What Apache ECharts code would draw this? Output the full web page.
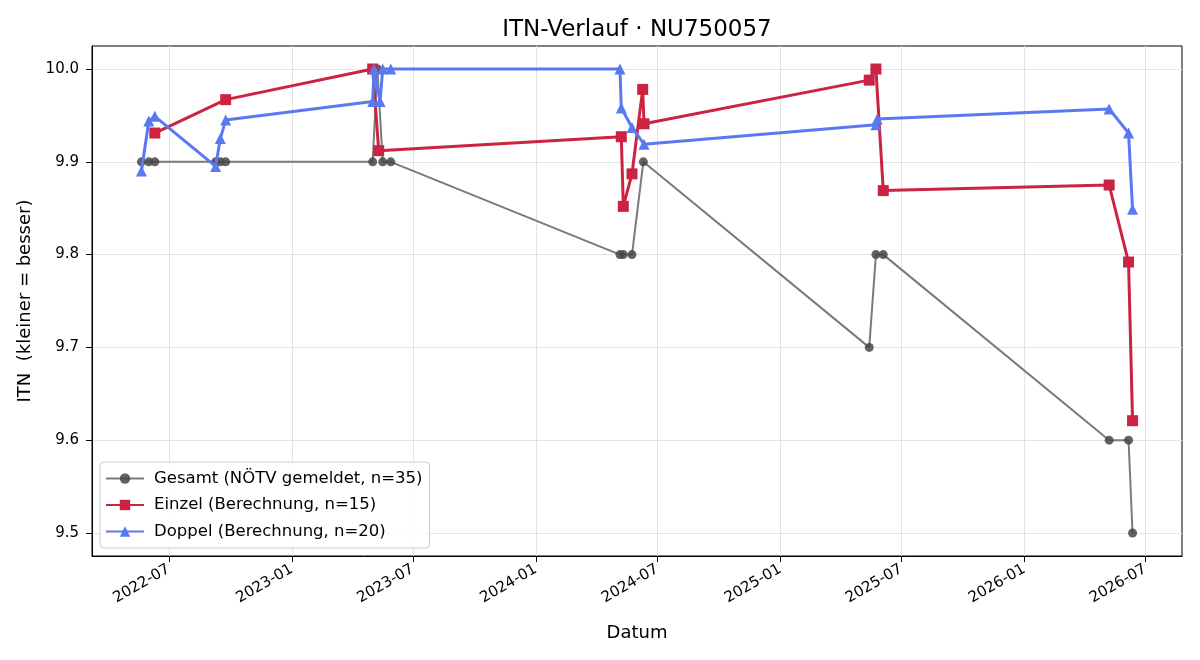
<!DOCTYPE html>
<html>
<head>
<meta charset="utf-8">
<script src="https://cdn.jsdelivr.net/npm/echarts@6/dist/echarts.min.js"></script>
<style>html,body{margin:0;padding:0;background:#fff}#c{width:1200px;height:660px}</style>
</head>
<body>
<div id="c"></div>
<script>
// ---- data ----
const gesamtDates = ['2022-05-21','2022-06-01','2022-06-10','2022-09-09','2022-09-16','2022-09-24','2023-05-02','2023-05-09','2023-05-17','2023-05-29','2024-05-06','2024-05-11','2024-05-24','2024-06-10','2025-05-14','2025-05-24','2025-06-04','2026-05-08','2026-06-06','2026-06-12'];
const gesamtValues = [9.9,9.9,9.9,9.9,9.9,9.9,9.9,10.0,9.9,9.9,9.8,9.8,9.8,9.9,9.7,9.8,9.8,9.6,9.6,9.5];

const einzelDates = ['2022-06-10','2022-09-24','2023-05-02','2023-05-11','2024-05-08','2024-05-11','2024-05-24','2024-06-09','2024-06-11','2025-05-14','2025-05-24','2025-06-04','2026-05-08','2026-06-06','2026-06-12'];
const einzelValues = [9.931,9.967,10.0,9.912,9.927,9.852,9.887,9.978,9.941,9.988,10.0,9.869,9.875,9.792,9.621];

const doppelDates = ['2022-05-21','2022-06-01','2022-06-10','2022-09-09','2022-09-16','2022-09-24','2023-05-02','2023-05-04','2023-05-13','2023-05-17','2023-05-29','2024-05-06','2024-05-08','2024-05-24','2024-06-11','2025-05-24','2025-05-26','2026-05-08','2026-06-06','2026-06-12'];
const doppelValues = [9.89,9.944,9.949,9.895,9.925,9.945,9.965,10.0,9.965,10.0,10.0,10.0,9.958,9.937,9.919,9.94,9.946,9.957,9.931,9.849];

const xTickLabels = ['2022-07-01','2023-01-01','2023-07-01','2024-01-01','2024-07-01','2025-01-01','2025-07-01','2026-01-01','2026-07-01'];
const yTickValues = [9.5,9.6,9.7,9.8,9.9,10.0];

const xMinDate = '2022-03-08';
const xMaxDate = '2026-08-25';

// ---- helpers ----
function toTs(s){const p=s.split('-').map(Number);return Date.UTC(p[0],p[1]-1,p[2]);}
function pairs(d,v){return d.map((x,i)=>[toTs(x),v[i]]);}
const xTicks = xTickLabels.map(toTs);

const FONT = 'DejaVu Sans';
const chart = echarts.init(document.getElementById('c'), null, {renderer:'canvas'});
chart.setOption({
  animation:false,
  backgroundColor:'#fff',
  textStyle:{fontFamily:FONT},
  title:{text:'ITN-Verlauf · NU750057',left:632,textAlign:'center',top:14,textStyle:{fontFamily:FONT,fontSize:23,fontWeight:'normal',color:'#000'}},
  grid:{left:92,right:18,top:46,bottom:104,show:true,borderColor:'#000',borderWidth:1,backgroundColor:'transparent'},
  legend:{
    orient:'vertical',left:100,top:462,
    backgroundColor:'rgba(255,255,255,0.85)',borderColor:'#cccccc',borderWidth:1,borderRadius:4,
    padding:[8,7,8,5],itemGap:9.5,itemWidth:38,itemHeight:13,
    textStyle:{fontFamily:FONT,fontSize:16.5,color:'#000',padding:[0,0,0,5]},
    data:['Gesamt (NÖTV gemeldet, n=35)','Einzel (Berechnung, n=15)','Doppel (Berechnung, n=20)']
  },
  xAxis:{
    type:'value',min:toTs(xMinDate),max:toTs(xMaxDate),
    name:'Datum',nameLocation:'middle',nameGap:68,nameTextStyle:{fontFamily:FONT,fontSize:18,color:'#000'},
    axisLine:{show:true,lineStyle:{color:'#000',width:1}},
    axisTick:{show:true,customValues:xTicks,length:6,lineStyle:{color:'#000'}},
    axisLabel:{customValues:xTicks,rotate:30,fontFamily:FONT,fontSize:15,color:'#000',margin:12,
      formatter:function(v){const d=new Date(v);return d.getUTCFullYear()+'-'+String(d.getUTCMonth()+1).padStart(2,'0');}},
    splitLine:{show:true,lineStyle:{color:'#e3e3e3',width:1}}
  },
  yAxis:{
    type:'value',min:9.4752,max:10.0248,
    name:'ITN  (kleiner = besser)',nameLocation:'middle',nameGap:57,nameRotate:90,nameTextStyle:{fontFamily:FONT,fontSize:18,color:'#000'},
    axisLine:{show:true,lineStyle:{color:'#000',width:1}},
    axisTick:{show:true,customValues:yTickValues,length:6,lineStyle:{color:'#000'}},
    axisLabel:{customValues:yTickValues,fontFamily:FONT,fontSize:15,color:'#000',margin:13,formatter:function(v){return v.toFixed(1);}},
    splitLine:{show:true,lineStyle:{color:'#e3e3e3',width:1}}
  },
  series:[
    {name:'Gesamt (NÖTV gemeldet, n=35)',type:'line',data:pairs(gesamtDates,gesamtValues),
     symbol:'circle',symbolSize:9,lineStyle:{color:'#7a7a7a',width:2},itemStyle:{color:'#474747',opacity:0.85},z:2},
    {name:'Einzel (Berechnung, n=15)',type:'line',data:pairs(einzelDates,einzelValues),
     symbol:'rect',symbolSize:11,lineStyle:{color:'#cc2342',width:3},itemStyle:{color:'#cc2342'},z:3},
    {name:'Doppel (Berechnung, n=20)',type:'line',data:pairs(doppelDates,doppelValues),
     symbol:'triangle',symbolSize:11,lineStyle:{color:'#5a78f0',width:3},itemStyle:{color:'#5a78f0'},z:4}
  ]
});
</script>
</body>
</html>
